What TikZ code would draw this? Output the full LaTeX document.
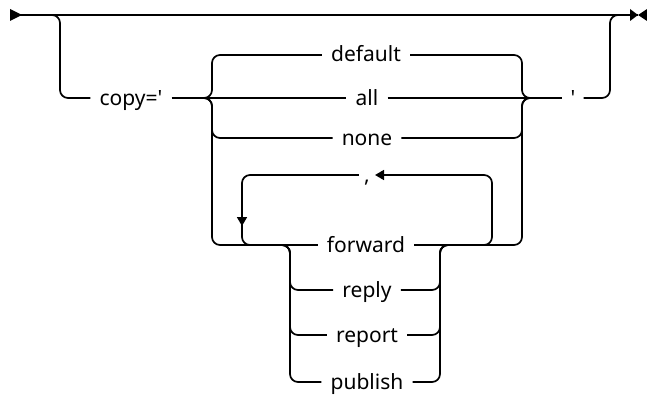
\documentclass[tikz,border=0pt]{standalone}
\usepackage{fontspec}
\setmainfont{Noto Sans}[Ligatures=TeXOff]
\usetikzlibrary{arrows.meta}

\begin{document}
\begin{tikzpicture}[x=1pt,y=-1pt,
  rail/.style={line width=1.7pt, rounded corners=8pt},
  word/.style={inner xsep=9pt, inner ysep=0pt, text height=19pt, text depth=5pt,
    font=\fontsize{21}{24}\selectfont},
  tip/.style={-{Triangle[length=9pt,width=10pt]}}]
\useasboundingbox (0,0) rectangle (647,396);
% keywords
\node[word] (copy) at (131,98) {copy='};
\node[word] (default) at (366,55) {default};
\node[word] (all) at (367,98) {all};
\node[word] (none) at (367,138) {none};
\node[word,inner xsep=5pt] (comma) at (367,175) {,};
\node[word] (forward) at (366,245) {forward};
\node[word] (reply) at (367,290) {reply};
\node[word] (report) at (367,335) {report};
\node[word] (publish) at (367,382) {publish};
\node[word,inner xsep=8pt] (quote) at (573,98) {'};
\coordinate (in) at (10,15);
\coordinate (out) at (638,15);
% main line
\fill (in) ++(0,-6) -- ++(12,6) -- ++(-12,6) -- cycle;
\draw[rail] (in) -- (out);
\fill (out) -- ++(-8,-6) -- ++(0,12) -- cycle;
\fill (out) -- ++(9,-6) -- ++(0,12) -- cycle;
\draw[rail] (48,15) -| (60,98) -- (copy.west);
% first choice
\draw[rail] (copy.east) -- (all.west);
\draw[rail] (200,98) -| (212,55) -- (default.west);
\draw[rail] (200,98) -| (212,138) -- (none.west);
\draw[rail] (200,98) -| (212,245) -- (forward.west);
\draw[rail] (all.east) -- (quote.west);
\draw[rail] (default.east) -| (522,98) -- (534,98);
\draw[rail] (none.east) -| (522,98) -- (534,98);
\draw[rail] (forward.east) -| (522,98) -- (534,98);
\draw[rail] (quote.east) -| (610,15) -- (622,15);
% repeat loop
\draw[rail,tip] (470,245) -| (492,175) -- (comma.east);
\draw[rail,tip] (comma.west) -| (242,226);
\draw[rail] (242,220) |- (262,245);
% second choice
\draw[rail] (280,245) -| (290,290) -- (reply.west);
\draw[rail] (280,245) -| (290,335) -- (report.west);
\draw[rail] (280,245) -| (290,382) -- (publish.west);
\draw[rail] (reply.east) -| (440,245) -- (452,245);
\draw[rail] (report.east) -| (440,245) -- (452,245);
\draw[rail] (publish.east) -| (440,245) -- (452,245);
\end{tikzpicture}
\end{document}
